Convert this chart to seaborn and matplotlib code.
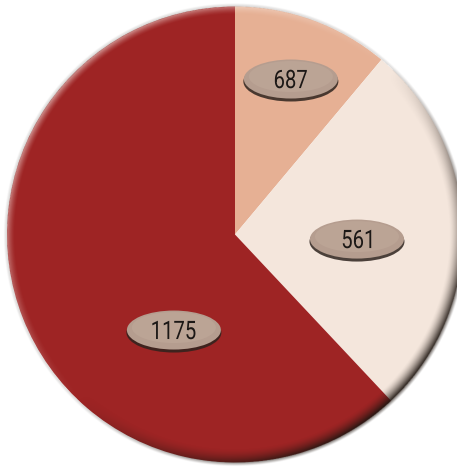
import numpy as np
import matplotlib
matplotlib.use("Agg")
import matplotlib.pyplot as plt
from matplotlib.patches import Ellipse, PathPatch
from matplotlib.textpath import TextPath
from matplotlib.font_manager import FontProperties
from matplotlib.transforms import Affine2D
import seaborn as sns

# ---- data ----
labels = ["687", "561", "1175"]          # values printed on the chart
shares = [11.1, 26.9, 62.0]              # slice sizes (% of circle)
colors = ["#e6b094", "#f4e6dc", "#9e2424"]

sns.set_style("white")
plt.rcParams["font.family"] = ["Roboto", "DejaVu Sans"]

W, H = 457, 468
fig = plt.figure(figsize=(W / 100, H / 100), dpi=100)
ax = fig.add_axes([0, 0, 1, 1])

cx, cy, R = 235.0, 233.5, 228.0

wedges, _ = ax.pie(shares, colors=colors, startangle=90, counterclock=False,
                   radius=R, center=(cx, cy), frame=False,
                   wedgeprops=dict(linewidth=0, antialiased=True))

ax.set_xlim(0, W)
ax.set_ylim(0, H)
ax.set_aspect("equal")
ax.axis("off")

# ---- bevel / shadow overlay ----
yy, xx = np.mgrid[0:H * 2, 0:W * 2] / 2.0 + 0.25
dx, dy = xx - cx, yy - cy
d = np.hypot(dx, dy)
ux, uy = dx / np.maximum(d, 1e-6), dy / np.maximum(d, 1e-6)
s = (ux * 0.72 - uy * 0.69)          # toward bottom-right
img = np.zeros((H * 2, W * 2, 4))
inside = d <= R
wdark = 14.0
t = np.clip((R - d) / wdark, 0, 1)
e = (1 - t) ** 1.6
dark = np.clip(s, 0, 1) ** 1.1 * e * 0.97
light = np.clip(-s, 0, 1) * np.clip((1 - np.clip((R - d) / 8.0, 0, 1)), 0, 1) ** 1.5 * 0.55
a_in = np.where(inside, np.maximum(dark, light), 0)
col_dark = np.array([0.12, 0.09, 0.07])
col_light = np.array([1.0, 0.97, 0.95])
mix = (dark >= light)[..., None]
img[..., :3] = np.where(mix, col_dark, col_light)
img[..., 3] = a_in
ring = (d > R) & (d < R + 3.5)
ra = np.clip(1 - (d - R) / 3.5, 0, 1)
outer_a = ra * (0.25 + 0.55 * np.clip(s, 0, 1))
img[ring, :3] = np.array([0.35, 0.32, 0.30])
img[ring, 3] = outer_a[ring]
ax.imshow(img, extent=(0, W, 0, H), origin="lower", zorder=3, interpolation="bilinear")
ax.set_xlim(0, W)
ax.set_ylim(0, H)

# ---- labels in ellipses ----
fp = FontProperties(family="Roboto", weight="normal")
label_pos = [(0.245, 0.682), (0.535, -0.02), (-0.268, -0.419)]  # fractions of radius
for txt, (fx, fy) in zip(labels, label_pos):
    x, y = cx + fx * R, cy + fy * R
    ax.add_patch(Ellipse((x, y - 2.5), 95, 40, facecolor="#2d231e", edgecolor="none",
                         alpha=0.85, zorder=4))
    ax.add_patch(Ellipse((x, y), 94, 39, facecolor="#b59d8f", edgecolor="none", zorder=5))
    ax.add_patch(Ellipse((x, y + 2.5), 84, 31, facecolor="#bea798", edgecolor="none",
                         alpha=0.7, zorder=5))
    tp = TextPath((0, 0), txt, size=26, prop=fp)
    bb = tp.get_extents()
    tr = (Affine2D().translate(-(bb.x0 + bb.x1) / 2, -(bb.y0 + bb.y1) / 2)
          .scale(0.78, 0.98).translate(x, y))
    ax.add_patch(PathPatch(tr.transform_path(tp), facecolor="#1c1816",
                           edgecolor="none", zorder=6))

fig.savefig("out.png", dpi=100)
